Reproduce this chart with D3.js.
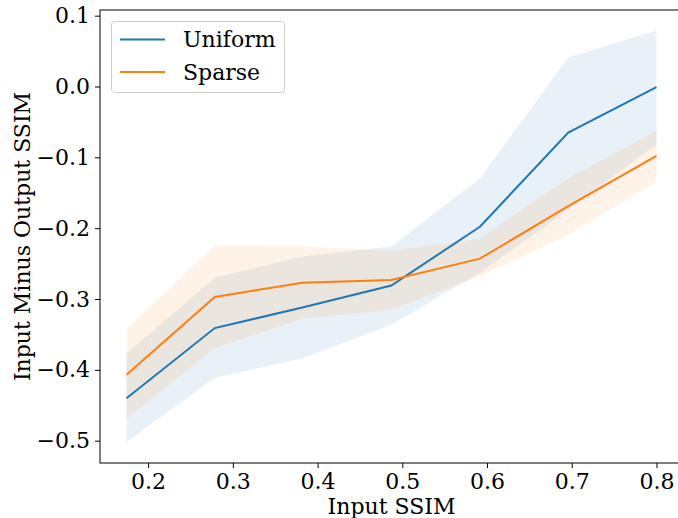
<!DOCTYPE html>
<html>
<head>
<meta charset="utf-8">
<script src="https://cdn.jsdelivr.net/npm/d3@7"></script>
<style>
  body { margin: 0; background: #fff; }
  svg { display: block; font-family: "DejaVu Serif", serif; }
</style>
</head>
<body>
<div id="chart"></div>
<script>
// values
const inputSsim = [0.1745, 0.2787, 0.382, 0.487, 0.5916, 0.6959, 0.8];

const uniformMean  = [-0.440, -0.341, -0.312, -0.281, -0.198, -0.065, -0.001];
const uniformUpper = [-0.377, -0.270, -0.240, -0.226, -0.130,  0.041,  0.079];
const uniformLower = [-0.502, -0.411, -0.384, -0.336, -0.263, -0.174, -0.082];

const sparseMean  = [-0.407, -0.297, -0.277, -0.273, -0.243, -0.169, -0.098];
const sparseUpper = [-0.343, -0.224, -0.226, -0.232, -0.215, -0.129, -0.063];
const sparseLower = [-0.469, -0.369, -0.328, -0.315, -0.268, -0.209, -0.134];

const xTicks = [0.2, 0.3, 0.4, 0.5, 0.6, 0.7, 0.8];
const yTicks = [0.1, 0.0, -0.1, -0.2, -0.3, -0.4, -0.5];

const series = [
  { name: "Uniform", color: "#1f77b4", mean: uniformMean, lo: uniformLower, hi: uniformUpper },
  { name: "Sparse",  color: "#ff7f0e", mean: sparseMean,  lo: sparseLower,  hi: sparseUpper }
];

const W = 678, H = 518;
const margin = {top: 10, left: 100, right: 683, bottom: 463};
const fontSize = "22px";

const svg = d3.select("#chart").append("svg")
  .attr("width", W).attr("height", H);

const x = d3.scaleLinear().domain([0.1432, 0.8313]).range([margin.left, margin.right]);
const y = d3.scaleLinear().domain([-0.5315, 0.108]).range([margin.bottom, margin.top]);

const fmt = d => d3.format(".1f")(d).replace("-", "\u2212");

// bands first, then lines
series.forEach(s => {
  const area = d3.area()
    .x((d, i) => x(inputSsim[i]))
    .y0((d, i) => y(s.lo[i]))
    .y1((d, i) => y(s.hi[i]));
  svg.append("path")
    .attr("d", area(inputSsim))
    .attr("fill", s.color)
    .attr("fill-opacity", 0.1);
});

series.forEach(s => {
  const line = d3.line()
    .x((d, i) => x(inputSsim[i]))
    .y(d => y(d));
  svg.append("path")
    .attr("d", line(s.mean))
    .attr("fill", "none")
    .attr("stroke", s.color)
    .attr("stroke-width", 2);
});

// axes
const xAxis = svg.append("g")
  .attr("transform", "translate(0," + margin.bottom + ")")
  .call(d3.axisBottom(x).tickValues(xTicks).tickFormat(fmt).tickSize(5).tickPadding(5));
const yAxis = svg.append("g")
  .attr("transform", "translate(" + margin.left + ",0)")
  .call(d3.axisLeft(y).tickValues(yTicks).tickFormat(fmt).tickSize(5).tickPadding(5));

[xAxis, yAxis].forEach(g => {
  g.select(".domain").remove();
  g.selectAll("line").attr("stroke", "#000").attr("stroke-width", 1);
  g.selectAll("text").attr("fill", "#000")
    .style("font-family", "DejaVu Serif").style("font-size", fontSize);
});

// spines
svg.append("rect")
  .attr("x", margin.left).attr("y", margin.top)
  .attr("width", margin.right - margin.left)
  .attr("height", margin.bottom - margin.top)
  .attr("fill", "none").attr("stroke", "#000").attr("stroke-width", 1);

// axis labels
svg.append("text")
  .attr("x", (margin.left + margin.right) / 2).attr("y", 514)
  .attr("text-anchor", "middle")
  .style("font-size", fontSize)
  .text("Input SSIM");

svg.append("text")
  .attr("transform", "translate(30," + (margin.top + margin.bottom) / 2 + ") rotate(-90)")
  .attr("text-anchor", "middle")
  .style("font-size", fontSize)
  .text("Input Minus Output SSIM");

// legend
const legend = svg.append("g");
legend.append("rect")
  .attr("x", 111.5).attr("y", 21.5).attr("width", 173).attr("height", 71)
  .attr("rx", 3).attr("fill", "#fff").attr("fill-opacity", 0.8)
  .attr("stroke", "#ccc");
series.forEach((s, i) => {
  const ly = 39.5 + i * 32.5;
  legend.append("line")
    .attr("x1", 120).attr("x2", 165).attr("y1", ly).attr("y2", ly)
    .attr("stroke", s.color).attr("stroke-width", 2);
  legend.append("text")
    .attr("x", 183).attr("y", ly + 7.5)
    .style("font-size", fontSize)
    .text(s.name);
});
</script>
</body>
</html>
